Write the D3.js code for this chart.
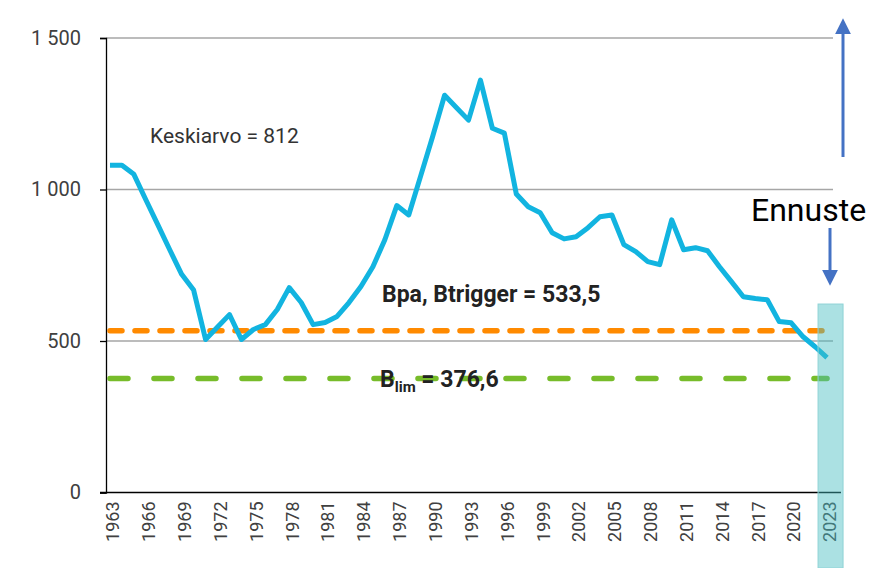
<!DOCTYPE html>
<html>
<head>
<meta charset="utf-8">
<script src="https://cdn.jsdelivr.net/npm/d3@7"></script>
<style>
  body { margin: 0; background: #fff; }
  svg text { font-family: Roboto, "Open Sans", sans-serif; }
</style>
</head>
<body>
<div id="chart"></div>
<script>
let totalWidth = 869, totalHeight = 568;
let margin = { top: 38, right: 36, bottom: 75, left: 104 };

// years and biomass values
const years = d3.range(1963, 2024).map(String);
const biomass = [
  1080, 1080, 1050, 966, 884, 801, 720, 668, 505, 546,
  587, 505, 538, 554, 604, 676, 627, 554, 561, 581,
  627, 680, 745, 834, 947, 916, 1045, 1175, 1311, 1270,
  1229, 1361, 1202, 1186, 985, 943, 923, 857, 837, 844,
  874, 910, 916, 818, 795, 762, 752, 900, 801, 808,
  798, 745, 696, 646, 640, 636, 564, 560, 514, 481,
  445
];
const yTicks = [0, 500, 1000, 1500];
const yTickLabels = ["0", "500", "1 000", "1 500"];
const xTickYears = years.filter((d, i) => i % 3 == 0);

const bpa = 533.5;
const blim = 376.6;
const meanValue = 812;
const forecastYear = "2023";

const svg = d3.select("#chart")
  .append("svg")
  .attr("width", totalWidth)
  .attr("height", totalHeight);

const x = d3.scaleBand()
  .domain(years)
  .range([margin.left, totalWidth - margin.right]);

const y = d3.scaleLinear()
  .domain([0, 1500])
  .range([totalHeight - margin.bottom - 0.5, margin.top]);

const cx = d => x(d) + x.bandwidth() / 2;
const axisX = 106;
const gridRight = totalWidth - margin.right;

// gridlines
svg.append("g")
  .selectAll("line")
  .data(yTicks.filter(d => d > 0))
  .enter()
  .append("line")
  .attr("x1", axisX)
  .attr("x2", gridRight)
  .attr("y1", d => y(d))
  .attr("y2", d => y(d))
  .attr("stroke", "#a6a6a6")
  .attr("stroke-width", 1.5);

// y axis
const yAxis = svg.append("g")
  .attr("transform", `translate(${axisX}, 0)`)
  .call(d3.axisLeft(y).tickValues(yTicks).tickSize(6).tickPadding(19)
    .tickFormat((d, i) => yTickLabels[i]));
yAxis.select(".domain").attr("stroke", "#000").attr("stroke-width", 1.3);
yAxis.selectAll(".tick line").attr("stroke", "#000").attr("stroke-width", 1.3);
yAxis.selectAll("text")
  .attr("font-size", "20px")
  .attr("fill", "#404040");

// x axis line
svg.append("line")
  .attr("x1", axisX - 6)
  .attr("x2", gridRight + 8)
  .attr("y1", y(0))
  .attr("y2", y(0))
  .attr("stroke", "#000")
  .attr("stroke-width", 1.5);

// year labels
svg.append("g")
  .selectAll("text")
  .data(xTickYears)
  .enter()
  .append("text")
  .attr("transform", d => `translate(${cx(d) + 3}, ${y(0) + 9}) rotate(-90)`)
  .attr("dy", "0.35em")
  .attr("text-anchor", "end")
  .attr("font-size", "18px")
  .attr("fill", "#404040")
  .text(d => d);

// reference lines
svg.append("line")
  .attr("x1", cx(years[0]))
  .attr("x2", cx(forecastYear))
  .attr("y1", y(bpa))
  .attr("y2", y(bpa))
  .attr("stroke", "#ff8a00")
  .attr("stroke-width", 5.5)
  .attr("stroke-linecap", "round")
  .attr("stroke-dasharray", "12,13");

svg.append("line")
  .attr("x1", cx(years[0]))
  .attr("x2", cx(forecastYear))
  .attr("y1", y(blim))
  .attr("y2", y(blim))
  .attr("stroke", "#77bc2a")
  .attr("stroke-width", 5.5)
  .attr("stroke-linecap", "round")
  .attr("stroke-dasharray", "18,26");

// biomass line
const line = d3.line()
  .x((d, i) => cx(years[i]))
  .y(d => y(d));

svg.append("path")
  .datum(biomass)
  .attr("d", line)
  .attr("fill", "none")
  .attr("stroke", "#12b4e0")
  .attr("stroke-width", 5)
  .attr("stroke-linejoin", "round");

// forecast band
svg.append("rect")
  .attr("x", x(forecastYear) - 3)
  .attr("y", y(622))
  .attr("width", 25)
  .attr("height", totalHeight - y(622))
  .attr("fill", "#45bcc2")
  .attr("fill-opacity", 0.45)
  .attr("stroke", "#8fd3d6")
  .attr("stroke-width", 1);

// labels
svg.append("text")
  .attr("x", 150)
  .attr("y", 143)
  .attr("font-size", "21px")
  .attr("fill", "#333")
  .text("Keskiarvo = " + meanValue);

svg.append("text")
  .attr("x", 382)
  .attr("y", y(bpa) - 29)
  .attr("font-size", "23px")
  .attr("font-weight", "bold")
  .attr("fill", "#222")
  .text("Bpa, Btrigger = " + String(bpa).replace(".", ","));

const blimText = svg.append("text")
  .attr("x", 380)
  .attr("y", y(blim) + 9)
  .attr("font-size", "23px")
  .attr("font-weight", "bold")
  .attr("fill", "#222");
blimText.append("tspan").text("B");
blimText.append("tspan")
  .attr("dy", 5)
  .attr("font-size", "15px")
  .text("lim");
blimText.append("tspan")
  .attr("dy", -5)
  .text(" = " + String(blim).replace(".", ","));

svg.append("text")
  .attr("x", 751)
  .attr("y", 221)
  .attr("font-family", "'Open Sans', sans-serif")
  .attr("font-size", "32px")
  .attr("fill", "#000")
  .text("Ennuste");

// arrows
const defs = svg.append("defs");
defs.append("marker")
  .attr("id", "arrowhead")
  .attr("viewBox", "0 0 10 10")
  .attr("refX", 2)
  .attr("refY", 5)
  .attr("markerUnits", "userSpaceOnUse")
  .attr("markerWidth", 16)
  .attr("markerHeight", 16)
  .attr("orient", "auto")
  .append("path")
  .attr("d", "M0,0 L10,5 L0,10 Z")
  .attr("fill", "#4472c4");

svg.append("line")
  .attr("x1", 843).attr("y1", 157)
  .attr("x2", 843).attr("y2", 31)
  .attr("stroke", "#4472c4")
  .attr("stroke-width", 3)
  .attr("marker-end", "url(#arrowhead)");

svg.append("line")
  .attr("x1", 830).attr("y1", 228)
  .attr("x2", 830).attr("y2", 273)
  .attr("stroke", "#4472c4")
  .attr("stroke-width", 3)
  .attr("marker-end", "url(#arrowhead)");
</script>
</body>
</html>
